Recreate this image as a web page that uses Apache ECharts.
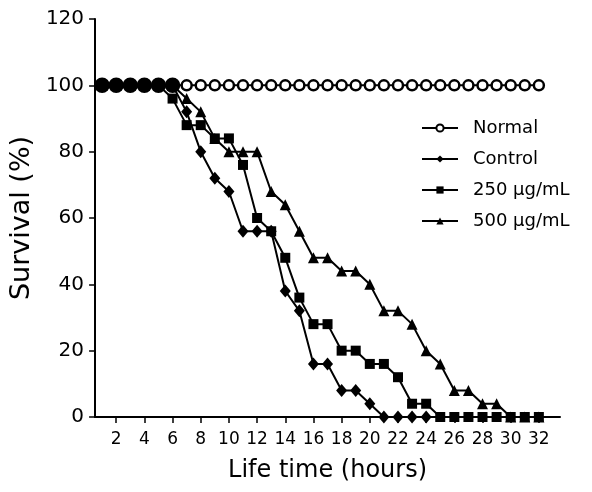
<!DOCTYPE html>
<html>
<head>
<meta charset="utf-8">
<script src="https://cdn.jsdelivr.net/npm/echarts@6/dist/echarts.min.js"></script>
<style>html,body{margin:0;padding:0;background:#fff;}#c{width:592px;height:492px;}</style>
</head>
<body>
<div id="c"></div>
<script>
var hours = [1,2,3,4,5,6,7,8,9,10,11,12,13,14,15,16,17,18,19,20,21,22,23,24,25,26,27,28,29,30,31,32];
var normal = [100,100,100,100,100,100,100,100,100,100,100,100,100,100,100,100,100,100,100,100,100,100,100,100,100,100,100,100,100,100,100,100];
var control = [100,100,100,100,100,100,92,80,72,68,56,56,56,38,32,16,16,8,8,4,0,0,0,0];
var ug250 = [100,100,100,100,100,96,88,88,84,84,76,60,56,48,36,28,28,20,20,16,16,12,4,4,0,0,0,0,0,0,0,0];
var ug500 = [100,100,100,100,100,100,96,92,84,80,80,80,68,64,56,48,48,44,44,40,32,32,28,20,16,8,8,4,4,0,0,0];
var xTicks = [2,4,6,8,10,12,14,16,18,20,22,24,26,28,30,32];
var names = ['Normal','Control','250 \u03bcg/mL','500 \u03bcg/mL'];

function pairs(vals, fillFn) {
  return vals.map(function(v, i){
    var item = {value: [hours[i], v]};
    if (fillFn && fillFn(i)) { item.itemStyle = {color: '#000'}; item.symbolSize = 13; }
    return item;
  });
}

var font = '"DejaVu Sans", Verdana, sans-serif';
var lineStyle = {color: '#000', width: 2};
var chart = echarts.init(document.getElementById('c'));
chart.setOption({
  animation: false,
  backgroundColor: '#fff',
  grid: {left: 95, right: 32, top: 19, bottom: 75, containLabel: false},
  legend: {
    orient: 'vertical', left: 416, top: 114, itemGap: 13, itemWidth: 36, itemHeight: 9,
    textStyle: {fontFamily: font, fontSize: 18, color: '#000', padding: [0,0,0,10]},
    data: names
  },
  xAxis: {
    type: 'value', min: 0.5, max: 33.5,
    name: 'Life time (hours)', nameLocation: 'middle', nameGap: 42,
    nameTextStyle: {fontFamily: font, fontSize: 24, color: '#000'},
    axisLine: {show: true, onZero: false, lineStyle: {color: '#000', width: 2}},
    axisTick: {show: true, customValues: xTicks, length: 6, lineStyle: {color: '#000', width: 1.5}},
    axisLabel: {customValues: xTicks, fontFamily: font, fontSize: 17, color: '#000', margin: 14},
    splitLine: {show: false}
  },
  yAxis: {
    type: 'value', min: 0, max: 120, interval: 20,
    name: 'Survival (%)', nameLocation: 'middle', nameGap: 51,
    nameTextStyle: {fontFamily: font, fontSize: 27, color: '#000'},
    axisLine: {show: true, lineStyle: {color: '#000', width: 2}},
    axisTick: {show: true, length: 6, lineStyle: {color: '#000', width: 1.5}},
    axisLabel: {fontFamily: font, fontSize: 20, color: '#000', margin: 11},
    splitLine: {show: false}
  },
  series: [
    {name: names[0], type: 'line', data: pairs(normal, function(i){ return control[i] === 100; }),
     symbol: 'circle', symbolSize: 10, showAllSymbol: true,
     lineStyle: lineStyle, itemStyle: {color: '#fff', borderColor: '#000', borderWidth: 2.5}, z: 2},
    {name: names[1], type: 'line', data: pairs(control), symbol: 'diamond', symbolSize: [11, 13], showAllSymbol: true,
     lineStyle: lineStyle, itemStyle: {color: '#000'}, z: 3},
    {name: names[2], type: 'line', data: pairs(ug250), symbol: 'rect', symbolSize: 10, showAllSymbol: true,
     lineStyle: lineStyle, itemStyle: {color: '#000'}, z: 4},
    {name: names[3], type: 'line', data: pairs(ug500), symbol: 'triangle', symbolSize: 11, showAllSymbol: true,
     lineStyle: lineStyle, itemStyle: {color: '#000'}, z: 5}
  ]
});
</script>
</body>
</html>
